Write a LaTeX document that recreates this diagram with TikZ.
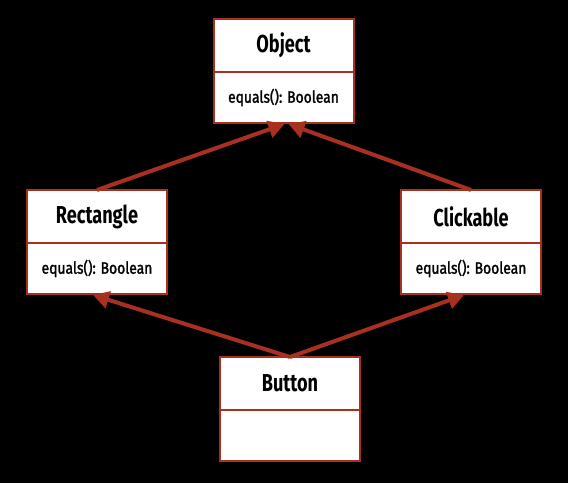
\documentclass[tikz,border=0pt]{standalone}
\usepackage{fontspec}
\newfontfamily\umltfont[FakeStretch=0.74]{Fira Sans}
\newfontfamily\umlbfont[FakeStretch=0.84,FakeBold=1.6]{Fira Sans}
\usetikzlibrary{arrows.meta}
\definecolor{umlred}{HTML}{A8301F}
\tikzset{
  x=1pt, y=-1pt,
  umlbox/.style={draw=umlred, line width=2pt, fill=white, minimum width=140pt, inner sep=0pt, outer sep=0pt, anchor=north},
  umltitle/.style={umlbox, minimum height=53pt, font=\umltfont\fontsize{24.5}{26}\selectfont\bfseries},
  umlbody/.style={umlbox, minimum height=51pt, font=\umlbfont\fontsize{16.5}{18}\selectfont},
  inherit/.style={draw=umlred, line width=4pt, -{Triangle[length=16pt,width=17pt]}}
}
\begin{document}
\begin{tikzpicture}
\fill[black] (0,0) rectangle (568,483);
\useasboundingbox (0,0) rectangle (568,483);
\node[umltitle] (obj) at (283.5,19) {Object};
\node[umlbody] (objb) at (obj.south) {equals(): Boolean};
\node[umltitle] (rect) at (97,190) {Rectangle};
\node[umlbody] (rectb) at (rect.south) {equals(): Boolean};
\node[umltitle] (click) at (471,190) {Clickable};
\node[umlbody] (clickb) at (click.south) {equals(): Boolean};
\node[umltitle] (btn) at (290,357) {Button};
\node[umlbody] (btnb) at (btn.south) {};
\draw[inherit] (rect.north) -- ([xshift=1pt,yshift=-1pt]objb.south);
\draw[inherit] (click.north) -- ([xshift=5pt,yshift=-1pt]objb.south);
\draw[inherit] (btn.north) -- ([xshift=-4pt,yshift=-1pt]rectb.south);
\draw[inherit] (btn.north) -- ([xshift=-7pt,yshift=-1pt]clickb.south);
\end{tikzpicture}
\end{document}
